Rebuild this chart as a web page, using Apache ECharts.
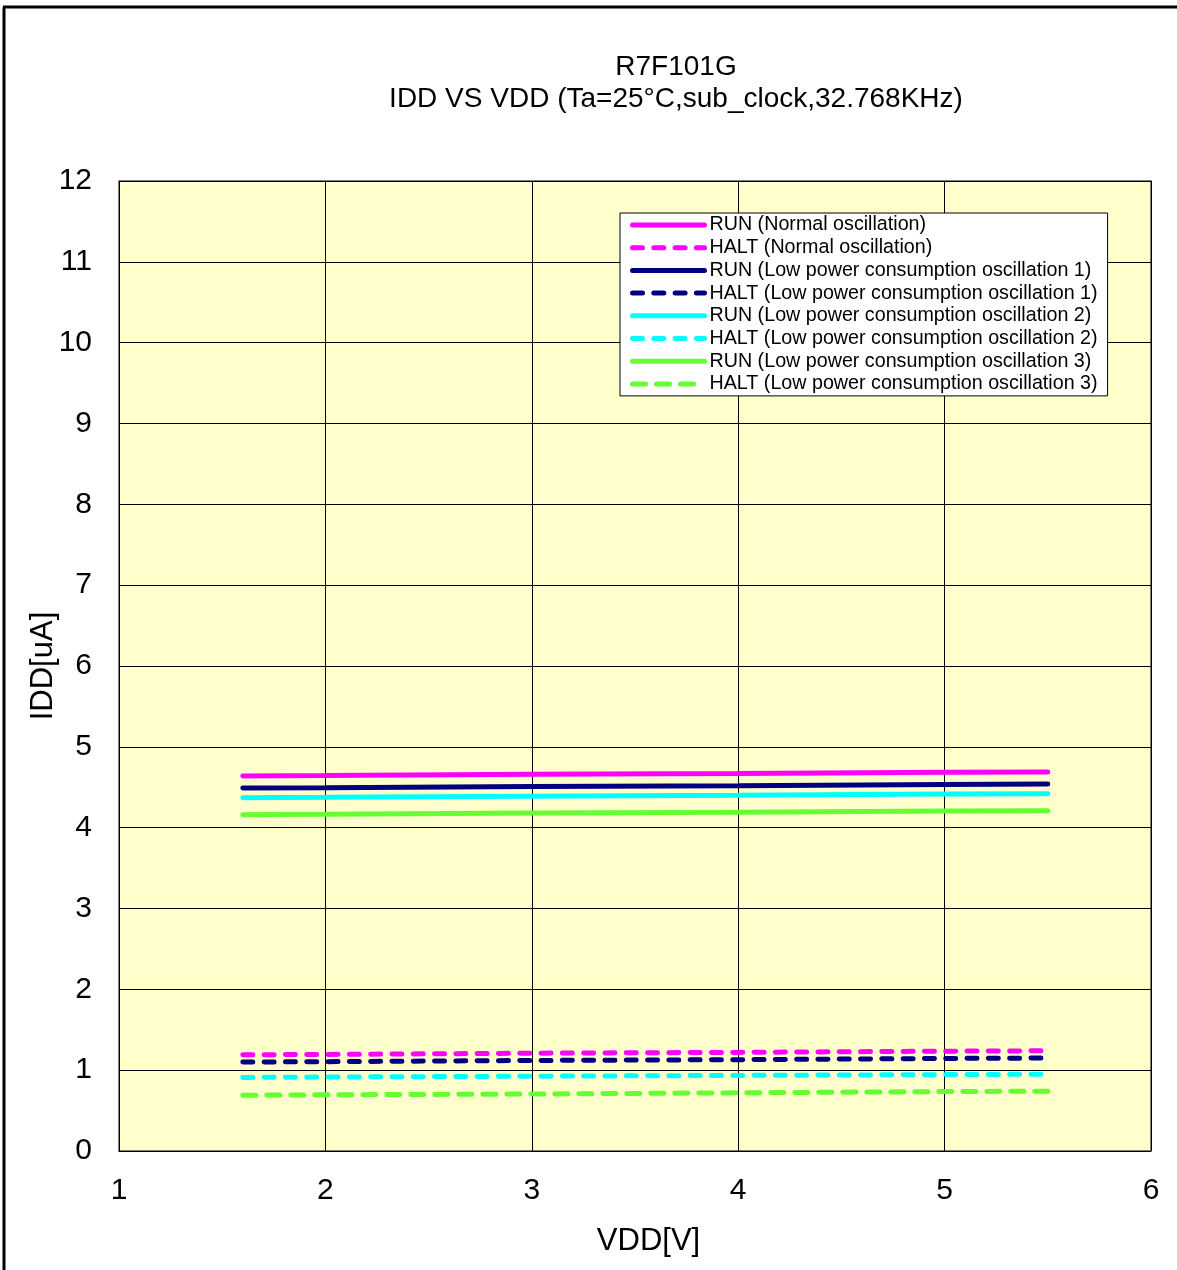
<!DOCTYPE html>
<html><head><meta charset="utf-8">
<script src="https://cdn.jsdelivr.net/npm/echarts@6/dist/echarts.min.js"></script>
<style>html,body{margin:0;padding:0;background:#fff}#c{width:1177px;height:1270px}</style>
</head><body><div id="c"></div>
<script>
const vdd = [1.6, 2.0, 3.0, 4.0, 5.0, 5.5];
const runNormal = [4.64, 4.645, 4.66, 4.67, 4.685, 4.69];
const haltNormal = [1.19, 1.195, 1.21, 1.22, 1.235, 1.24];
const runLP1 = [4.49, 4.495, 4.51, 4.52, 4.535, 4.54];
const haltLP1 = [1.10, 1.105, 1.12, 1.13, 1.145, 1.15];
const runLP2 = [4.37, 4.375, 4.39, 4.40, 4.415, 4.42];
const haltLP2 = [0.91, 0.915, 0.925, 0.935, 0.945, 0.95];
const runLP3 = [4.16, 4.165, 4.18, 4.19, 4.205, 4.21];
const haltLP3 = [0.69, 0.695, 0.705, 0.72, 0.735, 0.74];
const xTicks = [1, 2, 3, 4, 5, 6];
const yTicks = [0,1,2,3,4,5,6,7,8,9,10,11,12];
const names = [
  'RUN (Normal oscillation)',
  'HALT (Normal oscillation)',
  'RUN (Low power consumption oscillation 1)',
  'HALT (Low power consumption oscillation 1)',
  'RUN (Low power consumption oscillation 2)',
  'HALT (Low power consumption oscillation 2)',
  'RUN (Low power consumption oscillation 3)',
  'HALT (Low power consumption oscillation 3)'
];
const seriesData = [runNormal, haltNormal, runLP1, haltLP1, runLP2, haltLP2, runLP3, haltLP3];
const colors = ['#FF00FF','#FF00FF','#000080','#000080','#00FFFF','#00FFFF','#66FF33','#66FF33'];
const FONT = '"Liberation Sans", Arial, sans-serif';

const series = seriesData.map((d, i) => {
  const dashed = i % 2 === 1;
  return {
    name: names[i],
    type: 'line',
    symbol: 'none',
    smooth: false,
    data: d.map((v, k) => [vdd[k], v]),
    lineStyle: {
      color: colors[i],
      width: 5,
      type: dashed ? (i === 7 ? [13, 11] : [10, 11.3]) : 'solid',
      cap: 'round'
    },
    itemStyle: { color: colors[i] },
    z: 10
  };
});

const chart = echarts.init(document.getElementById('c'));
chart.setOption({
  animation: false,
  backgroundColor: '#ffffff',
  title: [
    { text: 'R7F101G', left: 671, top: 48, textAlign: 'center',
      textStyle: { fontFamily: FONT, fontSize: 28, fontWeight: 'normal', color: '#000' } },
    { text: 'IDD VS VDD (Ta=25°C,sub_clock,32.768KHz)', left: 671, top: 80, textAlign: 'center',
      textStyle: { fontFamily: FONT, fontSize: 28, fontWeight: 'normal', color: '#000' } }
  ],
  grid: { left: 119, top: 181, width: 1032, height: 970, show: true,
    backgroundColor: '#FFFFCC', borderColor: '#555', borderWidth: 1.5 },
  legend: {
    orient: 'vertical', left: 620, top: 213,
    data: names,
    backgroundColor: '#fff', borderColor: '#000', borderWidth: 1,
    padding: [2, 10, 2, 10],
    itemWidth: 72, itemHeight: 20, itemGap: 2.7,
    itemStyle: { color: 'transparent', borderColor: 'transparent', borderWidth: 0, opacity: 0 },
    lineStyle: { width: 5, cap: 'round' },
    textStyle: { fontFamily: FONT, fontSize: 19.7, color: '#000' },
    selectedMode: false
  },
  xAxis: {
    type: 'value', min: 1, max: 6, interval: 1,
    name: 'VDD[V]', nameLocation: 'middle', nameGap: 75, nameMoveOverlap: false,
    nameTextStyle: { fontFamily: FONT, fontSize: 31, color: '#000', padding: [0, 0, 0, 27] },
    axisLine: { show: false },
    axisTick: { show: false },
    axisLabel: { fontFamily: FONT, fontSize: 30, color: '#000', margin: 25 },
    splitLine: { show: true, lineStyle: { color: '#000', width: 1 } }
  },
  yAxis: {
    type: 'value', min: 0, max: 12, interval: 1,
    name: 'IDD[uA]', nameLocation: 'middle', nameGap: 60, nameRotate: 90, nameMoveOverlap: false,
    nameTextStyle: { fontFamily: FONT, fontSize: 31, color: '#000' },
    axisLine: { show: false },
    axisTick: { show: false },
    axisLabel: { fontFamily: FONT, fontSize: 30, color: '#000', margin: 27 },
    splitLine: { show: true, lineStyle: { color: '#000', width: 1 } }
  },
  graphic: [
    { type: 'line', shape: { x1: 4, y1: 7, x2: 4, y2: 1270 }, style: { stroke: '#000', lineWidth: 3 } },
    { type: 'line', shape: { x1: 3, y1: 7, x2: 1177, y2: 7 }, style: { stroke: '#000', lineWidth: 3 } }
  ],
  series: series
});
</script></body></html>
